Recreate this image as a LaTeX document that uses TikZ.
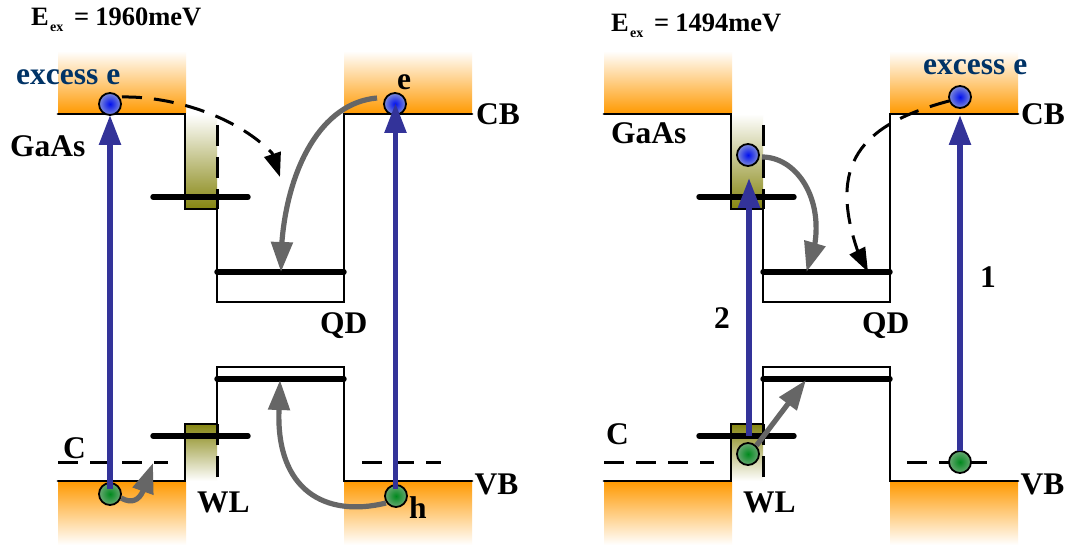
\documentclass[tikz,border=0pt]{standalone}
\usepackage{fontspec}
\setmainfont{Liberation Serif}
\usetikzlibrary{arrows.meta}
\definecolor{bandor}{HTML}{FF9900}
\definecolor{wlol}{HTML}{858510}
\definecolor{pump}{HTML}{333399}
\definecolor{relax}{HTML}{666666}
\definecolor{exc}{HTML}{003366}
\definecolor{elecin}{HTML}{0010F0}
\definecolor{elecout}{HTML}{7F8CD8}
\definecolor{holein}{HTML}{008A1E}
\definecolor{holeout}{HTML}{6AA874}
\tikzset{
  edge/.style={line width=2.8pt,black,line cap=round,line join=miter},
  level/.style={line width=5.4pt,black,line cap=round},
  dashln/.style={line width=3pt,black,dash pattern=on 20pt off 12pt},
  vdash/.style={line width=3pt,black,dash pattern=on 21pt off 11pt},
  pumpar/.style={line width=5.5pt,pump,-{Triangle[length=30pt,width=21pt]}},
  relaxar/.style={line width=5.2pt,relax,-{Triangle[length=30pt,width=21pt]}},
  hotar/.style={line width=3pt,black,dash pattern=on 20pt off 12pt,-{Triangle[length=24pt,width=17pt]}},
  lab/.style={font=\fontsize{31.5}{33}\selectfont\bfseries,inner sep=0pt,text=black,anchor=base west},
  exlab/.style={font=\fontsize{31.5}{33}\selectfont\bfseries,inner sep=0pt,text=exc,anchor=base west},
  enlab/.style={font=\fontsize{26.5}{28}\selectfont\bfseries,inner sep=0pt,anchor=base west},
  sublab/.style={font=\fontsize{14}{16}\selectfont\bfseries,inner sep=0pt,anchor=base west},
  carrier/.style={circle,draw=black,line width=1.8pt,minimum size=22pt,inner sep=0pt},
  elec/.style={carrier,inner color=elecin,outer color=elecout},
  hole/.style={carrier,inner color=holein,outer color=holeout}
}
\newcommand{\bandpanel}[1]{%
\begin{scope}[xshift=#1]
  \shade[top color=white,bottom color=bandor] (58,-51) rectangle (186,-114);
  \shade[top color=white,bottom color=bandor] (344,-51) rectangle (472,-114);
  \shade[top color=bandor,bottom color=white] (58,-481) rectangle (186,-545);
  \shade[top color=bandor,bottom color=white] (344,-481) rectangle (472,-545);
  \shade[top color=white,bottom color=wlol] (185,-114) rectangle (217,-209);
  \shade[top color=wlol,bottom color=white] (185,-424) rectangle (217,-481);
  \draw[edge] (58,-114) -- (185,-114) -- (185,-209) -- (217,-209) -- (217,-302) -- (344,-302) -- (344,-114) -- (472,-114);
  \draw[edge] (58,-481) -- (185,-481) -- (185,-424) -- (217,-424) -- (217,-367) -- (344,-367) -- (344,-481) -- (472,-481);
  \draw[vdash] (217,-125) -- (217,-209);
  \draw[vdash] (217,-477) -- (217,-424);
  \draw[level] (153,-197) -- (248,-197);
  \draw[level] (153,-436) -- (248,-436);
  \draw[level] (217,-272) -- (344,-272);
  \draw[level] (217,-379) -- (344,-379);
\end{scope}}
\begin{document}
\begin{tikzpicture}[x=1pt,y=1pt]
\useasboundingbox (0,0) rectangle (1068,-545);
\fill[white] (0,0) rectangle (1068,-545);
\bandpanel{0pt}
\bandpanel{546pt}
% exciton dashed lines
\draw[dashln] (58,-462.5) -- (168,-462.5);
\draw[dashln] (362,-462.5) -- (441,-462.5);
\draw[dashln] (604,-462.5) -- (714,-462.5);
\draw[dashln] (907,-462.5) -- (987,-462.5);
% carriers, left panel
\node[elec] (e1) at (110,-104) {};
\node[hole] (h1) at (110,-494) {};
\node[elec] (e2) at (395,-104) {};
\node[hole] (h2) at (396,-496) {};
% carriers, right panel
\node[elec] (e3) at (748,-155) {};
\node[hole] (h3) at (748,-454) {};
\node[elec] (e4) at (960,-97) {};
\node[hole] (h4) at (960,-462) {};
% arrow targets
\coordinate (t1) at (281,-272);
\coordinate (t2) at (280,-380);
\coordinate (t3) at (153,-463);
\coordinate (t4) at (280,-177);
\coordinate (t5) at (806.5,-272);
\coordinate (t6) at (806,-380);
\coordinate (t7) at (868,-272);
\coordinate (p1) at (749,-178);
\coordinate (p2) at (749,-436);
\coordinate (p3) at (395.5,-103);
\coordinate (p4) at (395.5,-489);
\coordinate (p5) at (960,-115);
\coordinate (p6) at (960,-451);
\coordinate (p7) at (110,-115);
\coordinate (p8) at (110,-489);
% pump arrows
\draw[pumpar] (p8) -- (p7);
\draw[pumpar] (p4) -- (p3);
\draw[pumpar] (p2) -- (p1);
\draw[pumpar] (p6) -- (p5);
% relaxation
\draw[relaxar] (377,-98) .. controls (320,-103) and (288,-170) .. (282,-241) -- (t1);
\draw[relaxar] (386,-503) .. controls (325,-518) and (276,-490) .. (279,-410) -- (t2);
\draw[relaxar] (h1.-20) .. controls (132,-504) and (139,-500) .. (143,-491) -- (t3);
\draw[relaxar] (762,-157) .. controls (795,-157) and (822,-195) .. (815,-243) -- (t5);
\draw[relaxar] (h3.45) -- (t6);
% hot electrons
\draw[hotar] (122,-97) .. controls (170,-96) and (235,-115) .. (272,-153) -- (t4);
\draw[hotar] (949,-101) .. controls (859,-125) and (828,-165) .. (858,-252) -- (t7);
% labels
\node[enlab] (ex1) at (31,-25.5) {E};
\node[sublab] (sub1) at (50,-31.5) {ex};
\node[enlab] (val1) at (74,-25.5) {=\hspace{6pt}1960meV};
\node[enlab] (ex2) at (611,-31.5) {E};
\node[sublab] (sub2) at (630,-37.5) {ex};
\node[enlab] (val2) at (654,-31.5) {=\hspace{6pt}1494meV};
\node[exlab] (x1) at (16,-85) {excess e};
\node[exlab] (x2) at (923,-75) {excess e};
\node[lab] (g1) at (10,-156.5) {GaAs};
\node[lab] (g2) at (611,-144) {GaAs};
\node[lab] (c1) at (476,-125) {CB};
\node[lab] (c2) at (1021,-125) {CB};
\node[lab] (v1) at (474.5,-494) {VB};
\node[lab] (v2) at (1020.5,-494) {VB};
\node[lab] (q1) at (320,-333) {QD};
\node[lab] (q2) at (862,-333) {QD};
\node[lab] (w1) at (197,-512) {WL};
\node[lab] (w2) at (743,-512) {WL};
\node[lab] (cc1) at (63,-458) {C};
\node[lab] (cc2) at (606,-444) {C};
\node[lab] (el) at (397,-90) {e};
\node[lab] (ho) at (409,-518) {h};
\node[lab] (n1) at (980,-288) {1};
\node[lab] (n2) at (714,-328) {2};
\end{tikzpicture}
\end{document}
